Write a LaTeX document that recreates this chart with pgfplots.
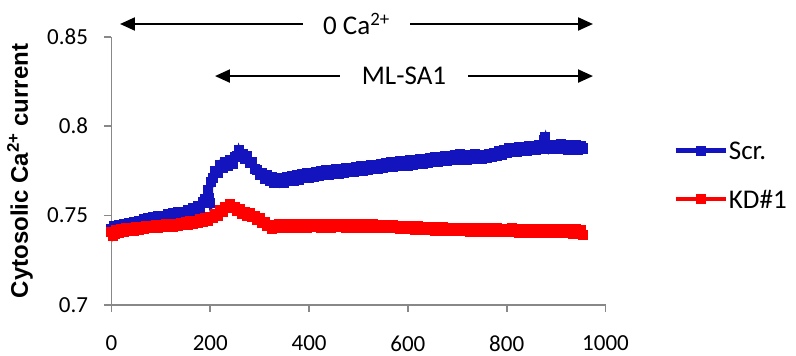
\documentclass[border=0pt]{standalone}
\usepackage{pgfplots}
\pgfplotsset{compat=1.18}
\usepackage{fontspec}
\setmainfont{Carlito}
\newfontfamily\arialf{Liberation Sans}
\usetikzlibrary{arrows.meta}
\definecolor{scrblue}{RGB}{20,20,190}
\definecolor{kdred}{RGB}{255,0,0}
\definecolor{axgray}{RGB}{136,136,136}
\begin{document}
\begin{tikzpicture}
\useasboundingbox (0,0) rectangle (796pt,356pt);
\begin{axis}[
  at={(111.5pt,51pt)}, anchor=south west,
  scale only axis, width=494pt, height=268.3pt,
  xmin=0, xmax=1000, ymin=0.7, ymax=0.85,
  axis x line=bottom, axis y line=left,
  axis line style={-, axgray, line width=1.8pt},
  xtick={0,200,400,600,800,1000},
  xticklabels={0,200,400,600,800,1000},
  ytick={0.7,0.75,0.8,0.85},
  yticklabels={0.7,0.75,0.8,0.85},
  tick align=outside,
  major tick length=7pt,
  tick style={axgray, line width=1.8pt},
  /pgf/number format/assume math mode=true,
  ticklabel style={font=\fontsize{23}{27}\selectfont},
  xticklabel style={yshift=-20pt},
  yticklabel style={xshift=-13pt},
  ylabel={\arialf\bfseries Cytosolic Ca\textsuperscript{2+} current},
  ylabel style={at={(axis description cs:-0.185,0.5)}, anchor=center, font=\fontsize{24}{28}\selectfont},
  clip=false,
  legend style={at={(axis description cs:1.131,0.481)}, anchor=west, draw=none, fill=none,
    font=\fontsize{27}{32}\selectfont, row sep=27pt,
    nodes={inner sep=1pt}},
  legend cell align=left,
  legend image code/.code={\draw[#1,mark repeat=2,mark phase=2] plot coordinates {(0pt,1pt)(25pt,1pt)(50pt,1pt)};},
]
\addplot[scrblue, line width=4.5pt, mark=square*, mark size=2.8pt] coordinates {
(0,.7425)(5,.7440)(10,.7432)(15,.7448)(20,.7440)(25,.7455)(30,.7445)(35,.7460)(40,.7450)(45,.7465)(50,.7455)(55,.7472)(60,.7462)(65,.7478)(70,.7468)(75,.7485)(80,.7475)(85,.7490)(90,.7480)(95,.7497)(100,.7487)(105,.7500)(110,.7490)(115,.7508)(120,.7495)(125,.7512)(130,.7500)(135,.7518)(140,.7505)(145,.7522)(150,.7512)(155,.7530)(160,.7520)(165,.7540)(170,.7530)(175,.7552)(180,.7545)(185,.7575)(190,.7590)(195,.7640)(198,.7600)(200,.7570)(202,.7690)(205,.7710)(210,.7750)(215,.7740)(220,.7785)(225,.7765)(230,.7800)(235,.7780)(240,.7810)(245,.7790)(250,.7825)(255,.7830)(258,.7865)(262,.7835)(266,.7845)(270,.7815)(275,.7830)(280,.7795)(285,.7800)(290,.7760)(295,.7755)(300,.7725)(305,.7735)(310,.7705)(315,.7725)(320,.7695)(325,.7715)(330,.7685)(335,.7710)(340,.7680)(345,.7705)(350,.7685)(355,.7715)(360,.7695)(365,.7720)(370,.7695)(375,.7725)(380,.7700)(385,.7730)(390,.7710)(395,.7735)(400,.7710)(405,.7740)(410,.7715)(415,.7745)(420,.7720)(425,.7748)(430,.7725)(435,.7752)(440,.7728)(445,.7755)(450,.7730)(455,.7758)(460,.7735)(465,.7762)(470,.7738)(475,.7765)(480,.7742)(485,.7768)(490,.7745)(495,.7772)(500,.7748)(505,.7775)(510,.7752)(515,.7778)(520,.7755)(525,.7782)(530,.7758)(535,.7785)(540,.7762)(545,.7790)(550,.7765)(555,.7792)(560,.7770)(565,.7798)(570,.7772)(575,.7800)(580,.7775)(585,.7802)(590,.7778)(595,.7805)(600,.7780)(605,.7808)(610,.7785)(615,.7812)(620,.7788)(625,.7815)(630,.7790)(635,.7818)(640,.7795)(645,.7822)(650,.7798)(655,.7825)(660,.7800)(665,.7828)(670,.7805)(675,.7830)(680,.7808)(685,.7835)(690,.7810)(695,.7838)(700,.7812)(705,.7842)(710,.7815)(715,.7840)(720,.7812)(725,.7838)(730,.7815)(735,.7842)(740,.7818)(745,.7840)(750,.7815)(755,.7838)(760,.7820)(765,.7845)(770,.7825)(775,.7850)(780,.7832)(785,.7858)(790,.7840)(795,.7865)(800,.7850)(805,.7878)(810,.7855)(815,.7880)(820,.7858)(825,.7882)(830,.7860)(835,.7885)(840,.7862)(845,.7888)(850,.7865)(855,.7890)(860,.7868)(865,.7895)(870,.7875)(875,.7920)(878,.7940)(882,.7895)(885,.7870)(890,.7895)(895,.7870)(900,.7895)(905,.7872)(910,.7898)(915,.7870)(920,.7895)(925,.7868)(930,.7892)(935,.7870)(940,.7895)(945,.7868)(950,.7890)(955,.7875)
};
\addlegendentry{Scr.}
\addplot[kdred, line width=4.5pt, mark=square*, mark size=2.8pt] coordinates {
(0,.7410)(3,.7385)(6,.7400)(10,.7420)(15,.7405)(20,.7425)(25,.7410)(30,.7428)(35,.7412)(40,.7432)(45,.7415)(50,.7435)(55,.7420)(60,.7438)(65,.7425)(70,.7442)(75,.7428)(80,.7444)(85,.7430)(90,.7446)(95,.7432)(100,.7448)(105,.7434)(110,.7450)(115,.7436)(120,.7452)(125,.7438)(130,.7455)(135,.7440)(140,.7458)(145,.7445)(150,.7462)(155,.7450)(160,.7468)(165,.7455)(170,.7472)(175,.7460)(180,.7478)(185,.7465)(190,.7485)(195,.7472)(200,.7492)(205,.7485)(210,.7510)(215,.7500)(220,.7530)(225,.7520)(230,.7550)(235,.7540)(240,.7565)(245,.7545)(250,.7548)(255,.7525)(260,.7535)(265,.7510)(270,.7520)(275,.7498)(280,.7512)(285,.7490)(290,.7500)(295,.7475)(300,.7485)(305,.7460)(310,.7465)(315,.7440)(320,.7445)(325,.7425)(330,.7442)(335,.7428)(340,.7450)(345,.7432)(350,.7450)(355,.7432)(360,.7452)(365,.7434)(370,.7450)(375,.7432)(380,.7452)(385,.7435)(390,.7450)(395,.7432)(400,.7452)(405,.7434)(410,.7455)(415,.7435)(420,.7452)(425,.7432)(430,.7450)(435,.7434)(440,.7452)(445,.7432)(450,.7450)(455,.7435)(460,.7455)(465,.7434)(470,.7450)(475,.7432)(480,.7452)(485,.7435)(490,.7452)(495,.7432)(500,.7450)(505,.7434)(510,.7452)(515,.7432)(520,.7448)(525,.7430)(530,.7450)(535,.7432)(540,.7448)(545,.7430)(550,.7446)(555,.7428)(560,.7446)(565,.7430)(570,.7445)(575,.7428)(580,.7444)(585,.7426)(590,.7444)(595,.7425)(600,.7442)(605,.7424)(610,.7440)(615,.7422)(620,.7440)(625,.7420)(630,.7438)(635,.7420)(640,.7436)(645,.7418)(650,.7436)(655,.7416)(660,.7434)(665,.7415)(670,.7434)(675,.7416)(680,.7432)(685,.7414)(690,.7432)(695,.7414)(700,.7430)(705,.7412)(710,.7432)(715,.7412)(720,.7430)(725,.7410)(730,.7428)(735,.7410)(740,.7430)(745,.7410)(750,.7428)(755,.7410)(760,.7428)(765,.7408)(770,.7426)(775,.7408)(780,.7428)(785,.7408)(790,.7426)(795,.7406)(800,.7426)(805,.7406)(810,.7428)(815,.7406)(820,.7426)(825,.7404)(830,.7426)(835,.7404)(840,.7424)(845,.7404)(850,.7426)(855,.7404)(860,.7424)(865,.7404)(870,.7426)(875,.7404)(880,.7424)(885,.7404)(890,.7424)(895,.7402)(900,.7424)(905,.7402)(910,.7422)(915,.7402)(920,.7424)(925,.7402)(930,.7422)(935,.7400)(940,.7422)(945,.7402)(950,.7420)(955,.7390)
};
\addlegendentry{KD\#1}
\draw[{Triangle[length=15pt,width=13pt]}-{Triangle[length=15pt,width=13pt]}, line width=2.2pt]
  (axis cs:17.2,0.8571) -- (axis cs:974.7,0.8571)
  node[midway, fill=white, inner xsep=20pt, inner ysep=2pt, font=\fontsize{27}{32}\selectfont] {0 Ca\textsuperscript{2+}};
\draw[{Triangle[length=15pt,width=13pt]}-{Triangle[length=15pt,width=13pt]}, line width=2.2pt]
  (axis cs:209.5,0.8280) -- (axis cs:974.7,0.8280)
  node[midway, fill=white, inner xsep=22pt, inner ysep=2pt, font=\fontsize{27}{32}\selectfont] {ML-SA1};
\end{axis}
\end{tikzpicture}
\end{document}
